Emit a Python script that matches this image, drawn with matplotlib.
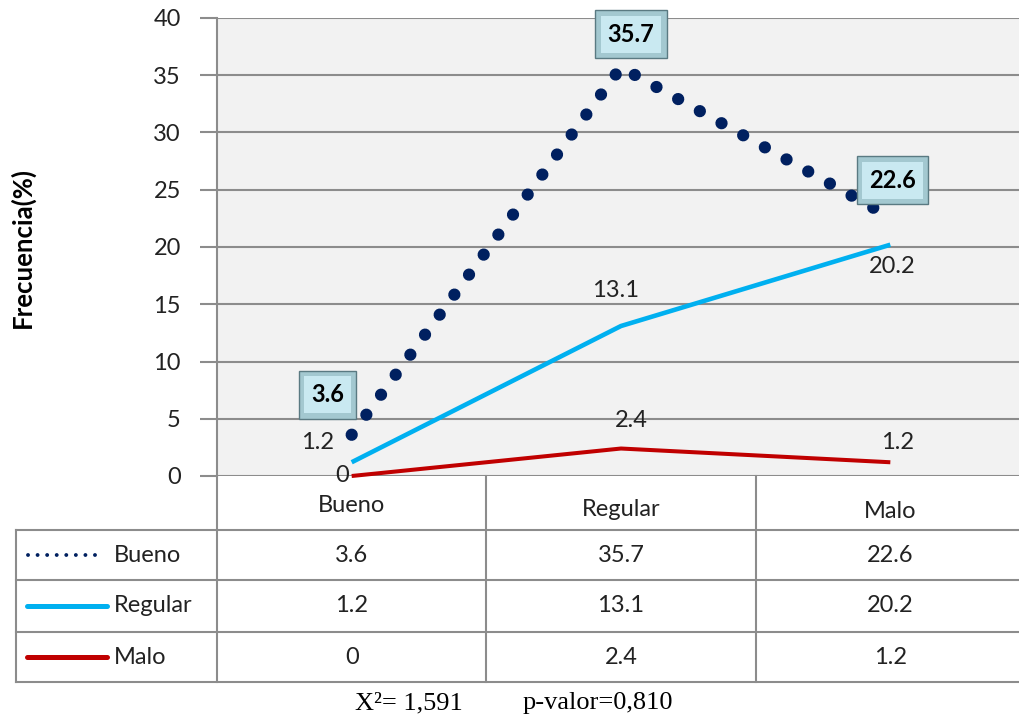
import matplotlib
matplotlib.use("Agg")
import matplotlib.pyplot as plt
from matplotlib.lines import Line2D

categories = ["Bueno", "Regular", "Malo"]
series_names = ["Bueno", "Regular", "Malo"]
bueno = [3.6, 35.7, 22.6]
regular = [1.2, 13.1, 20.2]
malo = [0, 2.4, 1.2]
yticks = [0, 5, 10, 15, 20, 25, 30, 35, 40]
ylabel = "Frecuencia(%)"
footnote_chi = "X\u00b2= 1,591"
footnote_p = "p-valor=0,810"

W, H = 1020, 719
FONT = "Lato"
fig = plt.figure(figsize=(W / 100, H / 100), dpi=100)

def fx(px):
    return px / W

def fy(py):
    return 1 - py / H

ax_left, ax_right, ax_top, ax_bot = 217, 1025, 18, 476
ax = fig.add_axes([fx(ax_left), fy(ax_bot), (ax_right - ax_left) / W, (ax_bot - ax_top) / H])
ax.set_facecolor("#f2f2f2")
ax.set_xlim(-0.5, 2.5)
ax.set_ylim(0, 40)
ax.set_yticks(yticks)
ax.set_yticklabels([str(v) for v in yticks], fontsize=17, family=FONT, color="#222222")
ax.tick_params(axis="y", length=12, width=1.5, color="#8c8c8c", pad=14)
ax.set_xticks([])
for s in ["top", "right", "bottom"]:
    ax.spines[s].set_visible(False)
ax.spines["left"].set_color("#8c8c8c")
ax.spines["left"].set_linewidth(1.5)
ax.yaxis.grid(True, color="#8c8c8c", lw=1.5)
ax.set_axisbelow(True)

x = list(range(len(categories)))
c_bueno, c_reg, c_malo = "#002060", "#00b0f0", "#c00000"

ax.plot(x, bueno, color=c_bueno, lw=8.8, dash_capstyle="round",
        linestyle=(0, (0.01, 2.02)), zorder=4, clip_on=False)
ax.plot(x, regular, color=c_reg, lw=3.3, solid_capstyle="butt", zorder=3, clip_on=False)
ax.plot(x, malo, color=c_malo, lw=2.9, solid_capstyle="butt", zorder=3, clip_on=False)

# data labels (beveled boxes for Bueno)
outer = dict(boxstyle="square,pad=0.52", facecolor="#a3c8d0", edgecolor="#5a7a82", lw=1.0)
inner = dict(boxstyle="square,pad=0.30", facecolor="#c9e9f1", edgecolor="none")
b_off = [(-24, 40), (10, 33), (2, 37)]
for xi, v, off in zip(x, bueno, b_off):
    for bb, z in [(outer, 6), (inner, 7)]:
        ax.annotate(f"{v}", (xi, v), xytext=(off[0] * 0.72, off[1] * 0.72), textcoords="offset points",
                    ha="center", va="center", fontsize=17, fontweight="bold", family=FONT,
                    color="black", bbox=bb, zorder=z, annotation_clip=False)
r_off = [(-34, 20), (-5, 36), (2, -22)]
for xi, v, off in zip(x, regular, r_off):
    ax.annotate(f"{v}", (xi, v), xytext=(off[0] * 0.72, off[1] * 0.72), textcoords="offset points",
                ha="center", va="center", fontsize=17, family=FONT, color="#222222",
                zorder=6, annotation_clip=False)
m_off = [(-10, 0), (10, 28), (7, 20)]
for xi, v, off in zip(x, malo, m_off):
    lab = f"{v:g}" if v == 0 else f"{v}"
    ax.annotate(lab, (xi, v), xytext=(off[0] * 0.72, off[1] * 0.72), textcoords="offset points",
                ha="center", va="center", fontsize=17, family=FONT, color="#222222",
                zorder=6, annotation_clip=False)

# y label
fig.text(fx(22), fy(247), ylabel, rotation=90, ha="center", va="center",
         fontsize=18.5, fontweight="bold", family=FONT, color="black")

# data table
gc = "#8c8c8c"
glw = 1.5
row_lines = [530, 580, 632, 682]
for py in row_lines:
    fig.add_artist(Line2D([fx(16), fx(1030)], [fy(py), fy(py)], color=gc, lw=glw))
fig.add_artist(Line2D([fx(16), fx(16)], [fy(530), fy(682)], color=gc, lw=glw))
fig.add_artist(Line2D([fx(217), fx(217)], [fy(476), fy(682)], color=gc, lw=glw))
trans = ax.get_xaxis_transform()

def ay(py):
    return (ax_bot - py) / (ax_bot - ax_top)

for b in [0.5, 1.5]:
    ax.add_line(Line2D([b, b], [ay(476), ay(682)], transform=trans, color=gc, lw=glw, clip_on=False))

# header row
header_y = [505, 509, 511]
for xi, c, hy in zip(x, categories, header_y):
    ax.text(xi, ay(hy), c, transform=trans, ha="center", va="center", fontsize=17,
            family=FONT, color="#222222", clip_on=False)

row_centers = [555, 606, 657]
data_rows = [bueno, regular, malo]
for yc, vals in zip(row_centers, data_rows):
    for xi, v in zip(x, vals):
        lab = f"{v:g}" if v == 0 else f"{v}"
        ax.text(xi, ay(yc), lab, transform=trans, ha="center", va="center", fontsize=17,
                family=FONT, color="#222222", clip_on=False)

# legend keys
fig.add_artist(Line2D([fx(28), fx(104)], [fy(555), fy(555)], color=c_bueno, lw=2.8,
                      linestyle=(0, (0.01, 2.45)), dash_capstyle="round"))
fig.add_artist(Line2D([fx(27), fx(107)], [fy(606), fy(606)], color=c_reg, lw=3.6,
                      solid_capstyle="round"))
fig.add_artist(Line2D([fx(27), fx(107)], [fy(657), fy(657)], color=c_malo, lw=3.6,
                      solid_capstyle="round"))
for yc, name in zip(row_centers, series_names):
    fig.text(fx(114), fy(yc), name, ha="left", va="center", fontsize=17, family=FONT,
             color="#222222")

# footnote
fig.text(fx(355), fy(703), footnote_chi, ha="left", va="center", fontsize=19,
         family="Liberation Serif", color="black")
fig.text(fx(523), fy(703), footnote_p, ha="left", va="center", fontsize=19,
         family="Liberation Serif", color="black")

fig.savefig("out.png", dpi=100)
